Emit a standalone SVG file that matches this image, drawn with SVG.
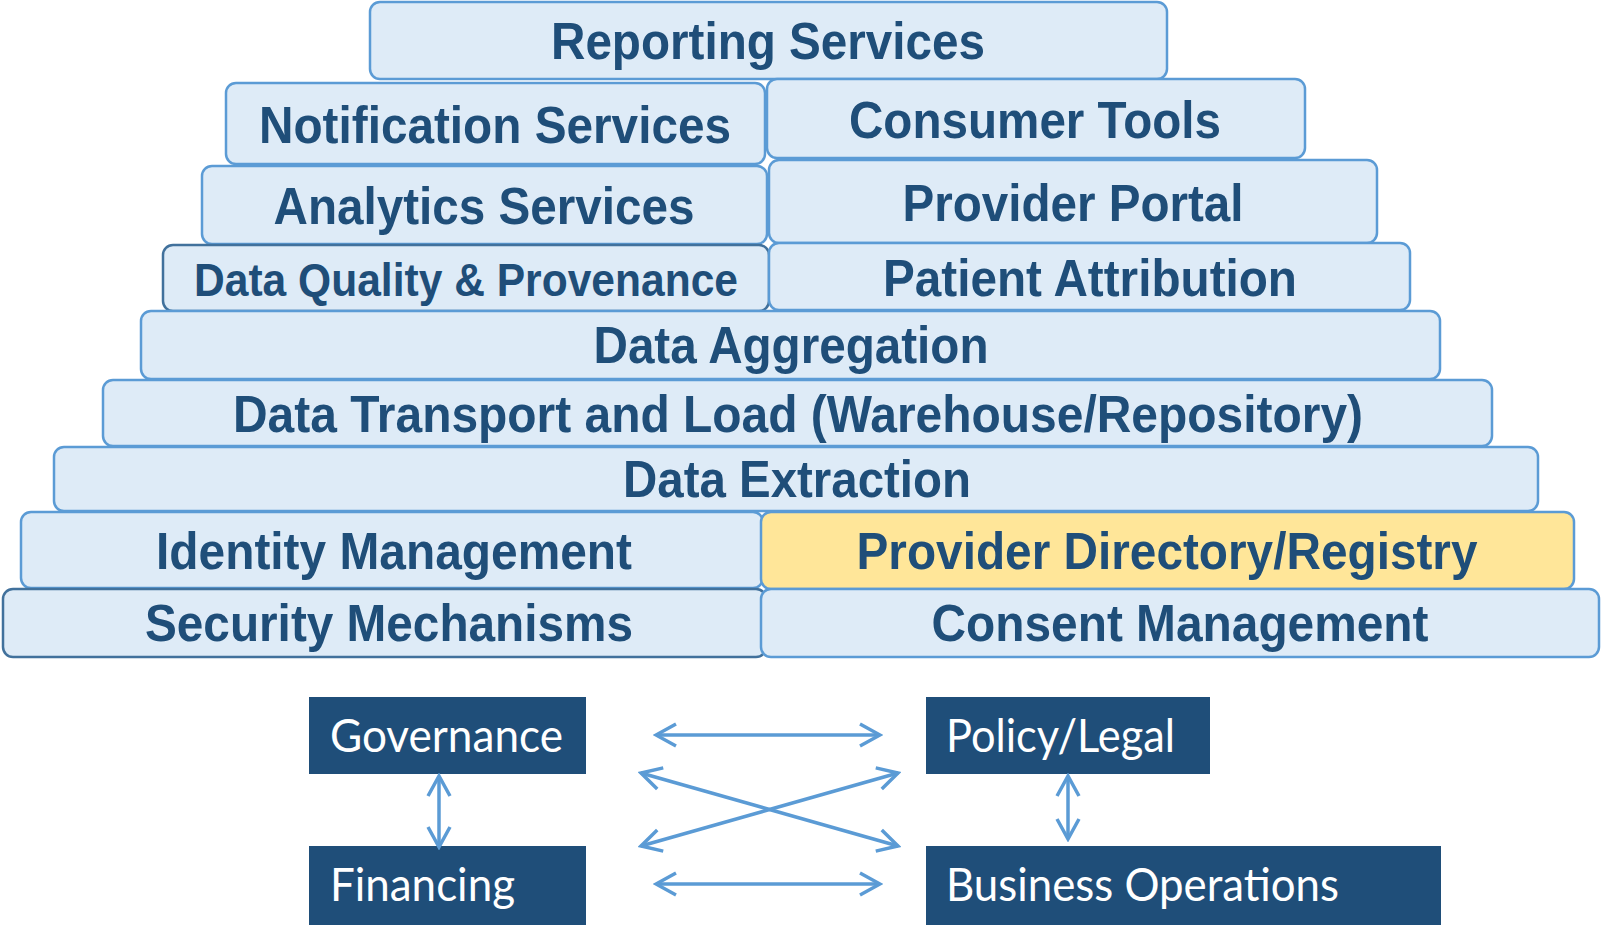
<svg xmlns="http://www.w3.org/2000/svg" width="1601" height="925" viewBox="0 0 1601 925">
<style>
.b{fill:#deebf7;stroke:#5b9bd5;stroke-width:2.5}
.y{fill:#ffe699;stroke:#5b9bd5;stroke-width:2.5}
.d{fill:#deebf7;stroke:#41719c;stroke-width:2.5}
.t{font-family:"Liberation Sans",Arial,sans-serif;font-weight:bold;font-size:52px;fill:#1f4e79;text-anchor:middle}
.n{fill:#1f4e79}
.w{font-family:Lato,"Open Sans",sans-serif;font-size:46px;fill:#ffffff}
.c{stroke:#5b9bd5;stroke-width:3.5;fill:none;marker-start:url(#a);marker-end:url(#a)}
</style>
<defs>
<marker id="a" viewBox="0 0 26 26" refX="23" refY="13" markerWidth="26" markerHeight="26" markerUnits="userSpaceOnUse" orient="auto-start-reverse">
<path d="M3,2 L23,13 L3,24" fill="none" stroke="#5b9bd5" stroke-width="3.5"/>
</marker>
</defs>
<g id="reporting"><rect class="b" x="370" y="2" width="797" height="77" rx="10"/><text class="t" x="768" y="59" textLength="434" lengthAdjust="spacingAndGlyphs">Reporting Services</text></g>
<g id="notification"><rect class="b" x="226" y="83" width="539" height="81" rx="10"/><text class="t" x="495" y="143" textLength="472" lengthAdjust="spacingAndGlyphs">Notification Services</text></g>
<g id="consumer"><rect class="b" x="767" y="79" width="538" height="79" rx="10"/><text class="t" x="1035" y="138" textLength="372" lengthAdjust="spacingAndGlyphs">Consumer Tools</text></g>
<g id="analytics"><rect class="b" x="202" y="166" width="565" height="78" rx="10"/><text class="t" x="484" y="224" textLength="421" lengthAdjust="spacingAndGlyphs">Analytics Services</text></g>
<g id="portal"><rect class="b" x="769" y="160" width="608" height="83" rx="10"/><text class="t" x="1073" y="221" textLength="341" lengthAdjust="spacingAndGlyphs">Provider Portal</text></g>
<g id="quality"><rect class="d" x="163" y="245" width="606" height="66" rx="10"/><text class="t" x="466" y="296" textLength="544" lengthAdjust="spacingAndGlyphs" style="font-size:46px">Data Quality &amp; Provenance</text></g>
<g id="attribution"><rect class="b" x="769" y="243" width="641" height="67" rx="10"/><text class="t" x="1090" y="296" textLength="414" lengthAdjust="spacingAndGlyphs">Patient Attribution</text></g>
<g id="aggregation"><rect class="b" x="141" y="311" width="1299" height="68" rx="10"/><text class="t" x="791" y="363" textLength="395" lengthAdjust="spacingAndGlyphs">Data Aggregation</text></g>
<g id="transport"><rect class="b" x="103" y="380" width="1389" height="66" rx="10"/><text class="t" x="798" y="432" textLength="1130" lengthAdjust="spacingAndGlyphs">Data Transport and Load (Warehouse/Repository)</text></g>
<g id="extraction"><rect class="b" x="54" y="447" width="1484" height="64" rx="10"/><text class="t" x="797" y="497" textLength="348" lengthAdjust="spacingAndGlyphs">Data Extraction</text></g>
<g id="identity"><rect class="b" x="21" y="512" width="742" height="76" rx="10"/><text class="t" x="394" y="569" textLength="476" lengthAdjust="spacingAndGlyphs">Identity Management</text></g>
<g id="security"><rect class="d" x="3" y="589" width="763" height="68" rx="10"/><text class="t" x="389" y="641" textLength="488" lengthAdjust="spacingAndGlyphs">Security Mechanisms</text></g>
<g id="directory"><rect class="y" x="761" y="512" width="813" height="77" rx="10"/><text class="t" x="1167" y="569" textLength="621" lengthAdjust="spacingAndGlyphs">Provider Directory/Registry</text></g>
<g id="consent"><rect class="b" x="761" y="589" width="838" height="68" rx="10"/><text class="t" x="1180" y="641" textLength="497" lengthAdjust="spacingAndGlyphs">Consent Management</text></g>
<g id="governance"><rect class="n" x="309" y="697" width="277" height="77"/><text class="w" x="330" y="752" textLength="233" lengthAdjust="spacingAndGlyphs">Governance</text></g>
<g id="financing"><rect class="n" x="309" y="846" width="277" height="79"/><text class="w" x="330" y="901" textLength="185" lengthAdjust="spacingAndGlyphs">Financing</text></g>
<g id="policy"><rect class="n" x="926" y="697" width="284" height="77"/><text class="w" x="946" y="752" textLength="229" lengthAdjust="spacingAndGlyphs">Policy/Legal</text></g>
<g id="business"><rect class="n" x="926" y="846" width="515" height="79"/><text class="w" x="946" y="901" textLength="393" lengthAdjust="spacingAndGlyphs">Business Operations</text></g>
<g id="connectors">
<line class="c" x1="656" y1="735" x2="880" y2="735"/>
<line class="c" x1="656" y1="884" x2="880" y2="884"/>
<line class="c" x1="641" y1="773" x2="898" y2="846"/>
<line class="c" x1="641" y1="846" x2="898" y2="773"/>
<line class="c" x1="439" y1="776" x2="439" y2="847"/>
<line class="c" x1="1068" y1="776" x2="1068" y2="839"/>
</g>
</svg>
